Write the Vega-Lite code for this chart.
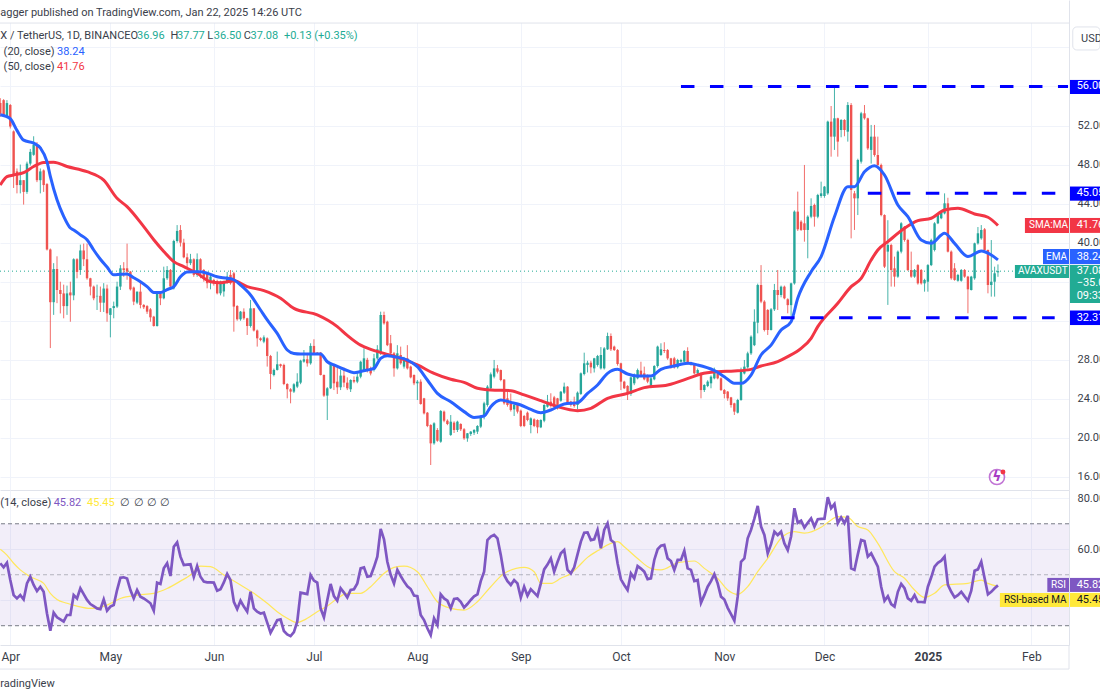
{
"$schema":"https://vega.github.io/schema/vega-lite/v6.json",
"description":"AVAX / TetherUS daily candles with EMA 20, SMA 50 and RSI 14",
"background":"white",
"padding":{"left":-6,"top":0,"right":0,"bottom":0},
"spacing":0,
"config":{"view":{"stroke":null},"font":"Roboto","concat":{"spacing":0}},
"datasets":{
"daily":[
{"date":"2024-03-29","open":54.3,"high":54.8,"low":52.9,"close":53.2,"rsi":54.5},
{"date":"2024-03-30","open":54.6,"high":54.7,"low":52.9,"close":53.0,"rsi":52.9},
{"date":"2024-03-31","open":52.9,"high":54.6,"low":52.8,"close":54.3,"rsi":54.7},
{"date":"2024-04-01","open":54.1,"high":54.2,"low":51.7,"close":51.9,"rsi":47.9},
{"date":"2024-04-02","open":51.4,"high":51.5,"low":45.6,"close":46.9,"rsi":42.0},
{"date":"2024-04-03","open":47.3,"high":47.6,"low":45.05,"close":45.9,"rsi":40.7},
{"date":"2024-04-04","open":45.9,"high":48.0,"low":45.05,"close":46.4,"rsi":42.0},
{"date":"2024-04-05","open":46.4,"high":46.4,"low":43.9,"close":45.2,"rsi":40.3},
{"date":"2024-04-06","open":45.2,"high":48.3,"low":45.0,"close":48.1,"rsi":46.6},
{"date":"2024-04-07","open":48.1,"high":49.6,"low":47.9,"close":49.3,"rsi":49.2},
{"date":"2024-04-08","open":49.0,"high":50.9,"low":48.9,"close":50.0,"rsi":46.0},
{"date":"2024-04-09","open":50.0,"high":50.3,"low":46.2,"close":46.4,"rsi":43.6},
{"date":"2024-04-10","open":46.4,"high":47.6,"low":45.05,"close":47.3,"rsi":45.3},
{"date":"2024-04-11","open":47.4,"high":47.5,"low":45.2,"close":45.9,"rsi":43.3},
{"date":"2024-04-12","open":46.0,"high":46.1,"low":39.2,"close":39.3,"rsi":34.8},
{"date":"2024-04-13","open":39.3,"high":39.4,"low":29.2,"close":33.9,"rsi":28.0},
{"date":"2024-04-14","open":33.9,"high":37.9,"low":32.6,"close":37.3,"rsi":35.1},
{"date":"2024-04-15","open":37.3,"high":38.6,"low":33.8,"close":35.15,"rsi":33.3},
{"date":"2024-04-16","open":35.15,"high":36.0,"low":32.75,"close":34.74,"rsi":32.5},
{"date":"2024-04-17","open":34.8,"high":35.7,"low":32.25,"close":33.5,"rsi":31.6},
{"date":"2024-04-18","open":33.5,"high":35.6,"low":32.6,"close":34.8,"rsi":34.2},
{"date":"2024-04-19","open":34.9,"high":36.0,"low":31.9,"close":34.6,"rsi":34.2},
{"date":"2024-04-20","open":34.6,"high":38.4,"low":34.1,"close":38.3,"rsi":42.0},
{"date":"2024-04-21","open":38.3,"high":38.4,"low":36.35,"close":37.0,"rsi":40.7},
{"date":"2024-04-22","open":37.2,"high":39.8,"low":36.7,"close":39.2,"rsi":44.7},
{"date":"2024-04-23","open":39.2,"high":39.9,"low":37.6,"close":38.3,"rsi":42.4},
{"date":"2024-04-24","open":38.3,"high":39.9,"low":36.2,"close":36.35,"rsi":40.1},
{"date":"2024-04-25","open":36.35,"high":36.4,"low":34.6,"close":35.5,"rsi":38.5},
{"date":"2024-04-26","open":35.5,"high":35.6,"low":34.1,"close":34.3,"rsi":37.7},
{"date":"2024-04-27","open":34.5,"high":35.7,"low":33.1,"close":34.55,"rsi":36.8},
{"date":"2024-04-28","open":34.55,"high":35.5,"low":32.9,"close":33.85,"rsi":36.5},
{"date":"2024-04-29","open":33.85,"high":35.85,"low":32.9,"close":35.3,"rsi":40.3},
{"date":"2024-04-30","open":35.3,"high":35.7,"low":31.9,"close":32.76,"rsi":35.9},
{"date":"2024-05-01","open":32.6,"high":33.3,"low":30.3,"close":33.27,"rsi":37.5},
{"date":"2024-05-02","open":33.3,"high":33.96,"low":32.25,"close":33.5,"rsi":38.1},
{"date":"2024-05-03","open":33.45,"high":36.0,"low":33.3,"close":35.5,"rsi":44.0},
{"date":"2024-05-04","open":35.5,"high":37.7,"low":35.15,"close":37.37,"rsi":48.8},
{"date":"2024-05-05","open":37.37,"high":38.0,"low":36.5,"close":37.2,"rsi":49.0},
{"date":"2024-05-06","open":37.37,"high":39.9,"low":36.2,"close":37.03,"rsi":48.5},
{"date":"2024-05-07","open":37.03,"high":37.1,"low":35.1,"close":35.22,"rsi":44.0},
{"date":"2024-05-08","open":35.4,"high":35.5,"low":33.6,"close":33.96,"rsi":40.7},
{"date":"2024-05-09","open":33.86,"high":35.0,"low":33.7,"close":34.98,"rsi":44.0},
{"date":"2024-05-10","open":34.98,"high":36.0,"low":33.27,"close":33.62,"rsi":41.4},
{"date":"2024-05-11","open":33.62,"high":33.7,"low":33.2,"close":33.38,"rsi":40.7},
{"date":"2024-05-12","open":33.5,"high":33.6,"low":32.7,"close":32.93,"rsi":39.8},
{"date":"2024-05-13","open":33.17,"high":33.3,"low":31.9,"close":32.35,"rsi":38.8},
{"date":"2024-05-14","open":32.42,"high":32.5,"low":31.4,"close":31.46,"rsi":35.9},
{"date":"2024-05-15","open":31.46,"high":34.9,"low":31.4,"close":34.81,"rsi":46.9},
{"date":"2024-05-16","open":34.81,"high":34.9,"low":33.6,"close":34.3,"rsi":46.4},
{"date":"2024-05-17","open":34.3,"high":37.54,"low":34.2,"close":36.35,"rsi":52.5},
{"date":"2024-05-18","open":36.35,"high":37.6,"low":36.18,"close":37.2,"rsi":54.5},
{"date":"2024-05-19","open":37.2,"high":37.3,"low":35.2,"close":35.5,"rsi":49.5},
{"date":"2024-05-20","open":35.32,"high":40.3,"low":35.2,"close":40.17,"rsi":61.0},
{"date":"2024-05-21","open":40.17,"high":41.8,"low":40.0,"close":41.2,"rsi":62.7},
{"date":"2024-05-22","open":41.3,"high":41.8,"low":39.6,"close":40.0,"rsi":57.1},
{"date":"2024-05-23","open":40.0,"high":40.4,"low":38.4,"close":38.5,"rsi":53.8},
{"date":"2024-05-24","open":38.5,"high":38.9,"low":37.4,"close":37.9,"rsi":54.0},
{"date":"2024-05-25","open":37.9,"high":38.85,"low":37.7,"close":38.3,"rsi":54.1},
{"date":"2024-05-26","open":38.3,"high":38.4,"low":36.5,"close":36.7,"rsi":49.2},
{"date":"2024-05-27","open":36.7,"high":38.9,"low":36.5,"close":38.3,"rsi":53.4},
{"date":"2024-05-28","open":38.3,"high":38.4,"low":36.35,"close":37.2,"rsi":49.2},
{"date":"2024-05-29","open":37.2,"high":37.3,"low":36.0,"close":36.5,"rsi":47.3},
{"date":"2024-05-30","open":36.86,"high":37.0,"low":35.32,"close":35.84,"rsi":47.0},
{"date":"2024-05-31","open":36.0,"high":36.8,"low":35.22,"close":36.52,"rsi":47.0},
{"date":"2024-06-01","open":36.18,"high":36.3,"low":35.6,"close":35.84,"rsi":46.9},
{"date":"2024-06-02","open":36.0,"high":36.2,"low":34.7,"close":34.81,"rsi":43.7},
{"date":"2024-06-03","open":34.81,"high":36.1,"low":34.6,"close":36.0,"rsi":44.3},
{"date":"2024-06-04","open":35.0,"high":36.1,"low":34.47,"close":36.0,"rsi":47.0},
{"date":"2024-06-05","open":36.0,"high":37.0,"low":35.8,"close":36.52,"rsi":50.3},
{"date":"2024-06-06","open":36.7,"high":37.2,"low":35.7,"close":35.84,"rsi":47.9},
{"date":"2024-06-07","open":36.86,"high":37.0,"low":30.88,"close":33.45,"rsi":39.4},
{"date":"2024-06-08","open":33.51,"high":33.6,"low":32.0,"close":32.15,"rsi":36.5},
{"date":"2024-06-09","open":32.15,"high":33.0,"low":32.0,"close":32.93,"rsi":39.8},
{"date":"2024-06-10","open":32.93,"high":33.27,"low":32.1,"close":32.25,"rsi":37.5},
{"date":"2024-06-11","open":32.25,"high":32.3,"low":30.54,"close":31.46,"rsi":35.5},
{"date":"2024-06-12","open":31.46,"high":34.13,"low":31.3,"close":33.27,"rsi":43.3},
{"date":"2024-06-13","open":33.27,"high":33.3,"low":30.9,"close":31.0,"rsi":36.8},
{"date":"2024-06-14","open":31.0,"high":31.1,"low":29.35,"close":30.2,"rsi":35.5},
{"date":"2024-06-15","open":30.2,"high":30.3,"low":29.9,"close":30.03,"rsi":34.8},
{"date":"2024-06-16","open":29.86,"high":30.5,"low":29.7,"close":30.3,"rsi":35.1},
{"date":"2024-06-17","open":30.2,"high":30.3,"low":27.3,"close":28.39,"rsi":31.2},
{"date":"2024-06-18","open":28.39,"high":28.5,"low":24.98,"close":26.55,"rsi":27.2},
{"date":"2024-06-19","open":26.44,"high":27.1,"low":26.3,"close":26.96,"rsi":29.6},
{"date":"2024-06-20","open":26.96,"high":28.84,"low":26.9,"close":27.54,"rsi":32.2},
{"date":"2024-06-21","open":27.54,"high":27.6,"low":27.2,"close":27.37,"rsi":32.5},
{"date":"2024-06-22","open":27.47,"high":27.6,"low":25.4,"close":25.52,"rsi":27.9},
{"date":"2024-06-23","open":25.52,"high":25.6,"low":24.05,"close":24.98,"rsi":26.6},
{"date":"2024-06-24","open":24.98,"high":25.1,"low":23.54,"close":24.74,"rsi":25.9},
{"date":"2024-06-25","open":24.74,"high":25.6,"low":24.6,"close":25.49,"rsi":27.5},
{"date":"2024-06-26","open":25.25,"high":26.62,"low":25.1,"close":25.76,"rsi":31.6},
{"date":"2024-06-27","open":25.66,"high":28.0,"low":25.5,"close":27.91,"rsi":43.0},
{"date":"2024-06-28","open":27.81,"high":29.0,"low":27.7,"close":28.05,"rsi":42.7},
{"date":"2024-06-29","open":28.05,"high":28.7,"low":27.3,"close":27.64,"rsi":42.4},
{"date":"2024-06-30","open":27.64,"high":29.69,"low":27.5,"close":29.42,"rsi":49.9},
{"date":"2024-07-01","open":29.42,"high":30.1,"low":28.5,"close":28.6,"rsi":47.7},
{"date":"2024-07-02","open":28.73,"high":28.8,"low":28.5,"close":28.6,"rsi":46.9},
{"date":"2024-07-03","open":28.73,"high":28.8,"low":26.4,"close":26.44,"rsi":36.8},
{"date":"2024-07-04","open":26.44,"high":26.5,"low":24.2,"close":24.33,"rsi":33.3},
{"date":"2024-07-05","open":24.33,"high":25.2,"low":21.83,"close":25.08,"rsi":40.0},
{"date":"2024-07-06","open":25.08,"high":27.6,"low":25.0,"close":27.47,"rsi":46.4},
{"date":"2024-07-07","open":27.47,"high":27.5,"low":24.9,"close":25.59,"rsi":41.6},
{"date":"2024-07-08","open":25.76,"high":27.3,"low":24.5,"close":25.18,"rsi":39.8},
{"date":"2024-07-09","open":25.18,"high":27.0,"low":24.9,"close":26.38,"rsi":44.7},
{"date":"2024-07-10","open":26.38,"high":27.2,"low":25.2,"close":25.66,"rsi":43.0},
{"date":"2024-07-11","open":25.66,"high":26.2,"low":24.9,"close":25.08,"rsi":41.1},
{"date":"2024-07-12","open":24.98,"high":26.0,"low":24.7,"close":25.93,"rsi":44.0},
{"date":"2024-07-13","open":25.93,"high":26.3,"low":25.6,"close":25.76,"rsi":44.3},
{"date":"2024-07-14","open":25.76,"high":26.7,"low":25.6,"close":26.27,"rsi":46.6},
{"date":"2024-07-15","open":26.27,"high":27.9,"low":26.1,"close":27.8,"rsi":52.5},
{"date":"2024-07-16","open":26.95,"high":29.17,"low":26.9,"close":28.15,"rsi":52.9},
{"date":"2024-07-17","open":28.0,"high":28.2,"low":26.7,"close":26.95,"rsi":49.2},
{"date":"2024-07-18","open":27.12,"high":27.3,"low":26.4,"close":26.6,"rsi":49.5},
{"date":"2024-07-19","open":26.95,"high":28.6,"low":26.8,"close":28.15,"rsi":53.0},
{"date":"2024-07-20","open":28.15,"high":29.5,"low":28.0,"close":29.07,"rsi":57.1},
{"date":"2024-07-21","open":28.66,"high":32.93,"low":28.5,"close":32.59,"rsi":68.0},
{"date":"2024-07-22","open":32.59,"high":32.93,"low":31.6,"close":31.73,"rsi":63.9},
{"date":"2024-07-23","open":31.9,"high":32.0,"low":29.4,"close":29.5,"rsi":55.1},
{"date":"2024-07-24","open":29.69,"high":30.54,"low":28.5,"close":28.66,"rsi":50.0},
{"date":"2024-07-25","open":28.66,"high":28.8,"low":26.27,"close":27.12,"rsi":46.6},
{"date":"2024-07-26","open":27.12,"high":29.5,"low":27.0,"close":28.66,"rsi":51.9},
{"date":"2024-07-27","open":28.49,"high":29.35,"low":27.5,"close":27.64,"rsi":49.5},
{"date":"2024-07-28","open":27.3,"high":28.3,"low":27.1,"close":28.15,"rsi":47.3},
{"date":"2024-07-29","open":28.15,"high":29.5,"low":27.0,"close":27.12,"rsi":45.5},
{"date":"2024-07-30","open":27.3,"high":27.4,"low":26.1,"close":26.2,"rsi":44.4},
{"date":"2024-07-31","open":26.44,"high":26.5,"low":25.4,"close":25.59,"rsi":41.8},
{"date":"2024-08-01","open":25.59,"high":25.93,"low":23.88,"close":25.76,"rsi":41.6},
{"date":"2024-08-02","open":25.76,"high":26.0,"low":23.4,"close":23.47,"rsi":34.2},
{"date":"2024-08-03","open":24.05,"high":24.1,"low":22.4,"close":22.51,"rsi":32.2},
{"date":"2024-08-04","open":22.58,"high":22.65,"low":21.1,"close":21.22,"rsi":29.0},
{"date":"2024-08-05","open":21.32,"high":21.4,"low":17.22,"close":19.44,"rsi":26.3},
{"date":"2024-08-06","open":19.44,"high":21.6,"low":19.3,"close":21.49,"rsi":32.9},
{"date":"2024-08-07","open":20.81,"high":21.0,"low":19.6,"close":19.71,"rsi":30.3},
{"date":"2024-08-08","open":19.61,"high":22.85,"low":19.5,"close":22.75,"rsi":42.3},
{"date":"2024-08-09","open":22.69,"high":22.8,"low":21.6,"close":21.76,"rsi":40.7},
{"date":"2024-08-10","open":21.76,"high":21.9,"low":21.3,"close":21.42,"rsi":39.8},
{"date":"2024-08-11","open":20.3,"high":22.34,"low":20.2,"close":21.66,"rsi":36.8},
{"date":"2024-08-12","open":21.56,"high":21.7,"low":20.5,"close":20.81,"rsi":40.5},
{"date":"2024-08-13","open":20.81,"high":21.76,"low":20.6,"close":21.66,"rsi":40.7},
{"date":"2024-08-14","open":21.42,"high":21.5,"low":20.7,"close":20.88,"rsi":39.4},
{"date":"2024-08-15","open":20.88,"high":21.0,"low":19.8,"close":19.95,"rsi":37.1},
{"date":"2024-08-16","open":19.95,"high":20.5,"low":19.6,"close":20.47,"rsi":38.5},
{"date":"2024-08-17","open":20.4,"high":20.7,"low":20.2,"close":20.64,"rsi":40.1},
{"date":"2024-08-18","open":20.53,"high":20.9,"low":20.3,"close":20.81,"rsi":41.5},
{"date":"2024-08-19","open":20.64,"high":21.3,"low":20.4,"close":21.22,"rsi":42.3},
{"date":"2024-08-20","open":21.15,"high":22.3,"low":21.0,"close":22.17,"rsi":47.5},
{"date":"2024-08-21","open":22.17,"high":23.7,"low":21.9,"close":23.54,"rsi":51.2},
{"date":"2024-08-22","open":23.37,"high":25.4,"low":23.2,"close":25.25,"rsi":63.6},
{"date":"2024-08-23","open":25.08,"high":26.7,"low":24.9,"close":26.51,"rsi":65.0},
{"date":"2024-08-24","open":26.27,"high":27.98,"low":26.1,"close":27.12,"rsi":65.6},
{"date":"2024-08-25","open":27.12,"high":27.47,"low":26.6,"close":26.78,"rsi":64.3},
{"date":"2024-08-26","open":26.95,"high":27.0,"low":25.8,"close":25.93,"rsi":57.7},
{"date":"2024-08-27","open":25.98,"high":26.0,"low":23.4,"close":23.54,"rsi":49.9},
{"date":"2024-08-28","open":24.05,"high":24.73,"low":23.2,"close":23.37,"rsi":47.5},
{"date":"2024-08-29","open":23.54,"high":24.55,"low":22.7,"close":22.86,"rsi":46.0},
{"date":"2024-08-30","open":22.92,"high":23.5,"low":22.24,"close":23.37,"rsi":47.9},
{"date":"2024-08-31","open":23.37,"high":23.5,"low":22.5,"close":22.69,"rsi":46.6},
{"date":"2024-09-01","open":22.79,"high":22.9,"low":21.1,"close":21.22,"rsi":41.0},
{"date":"2024-09-02","open":22.24,"high":22.35,"low":21.1,"close":21.22,"rsi":45.3},
{"date":"2024-09-03","open":22.58,"high":22.7,"low":21.7,"close":21.83,"rsi":41.8},
{"date":"2024-09-04","open":21.32,"high":22.1,"low":20.47,"close":22.0,"rsi":44.3},
{"date":"2024-09-05","open":21.9,"high":22.0,"low":21.1,"close":21.22,"rsi":43.0},
{"date":"2024-09-06","open":21.83,"high":21.9,"low":20.47,"close":21.08,"rsi":41.6},
{"date":"2024-09-07","open":21.08,"high":21.9,"low":21.0,"close":21.83,"rsi":46.6},
{"date":"2024-09-08","open":21.76,"high":23.45,"low":21.6,"close":23.37,"rsi":52.1},
{"date":"2024-09-09","open":23.2,"high":24.4,"low":23.1,"close":23.71,"rsi":54.0},
{"date":"2024-09-10","open":23.71,"high":24.57,"low":23.1,"close":23.27,"rsi":56.4},
{"date":"2024-09-11","open":24.15,"high":24.3,"low":23.1,"close":23.2,"rsi":51.2},
{"date":"2024-09-12","open":24.05,"high":24.1,"low":22.9,"close":23.03,"rsi":55.0},
{"date":"2024-09-13","open":23.81,"high":24.8,"low":23.7,"close":24.73,"rsi":58.4},
{"date":"2024-09-14","open":24.63,"high":25.66,"low":24.5,"close":25.25,"rsi":59.7},
{"date":"2024-09-15","open":25.25,"high":25.3,"low":23.4,"close":23.61,"rsi":51.9},
{"date":"2024-09-16","open":23.71,"high":23.8,"low":23.2,"close":23.37,"rsi":50.5},
{"date":"2024-09-17","open":23.71,"high":24.22,"low":23.1,"close":23.27,"rsi":52.9},
{"date":"2024-09-18","open":23.37,"high":24.75,"low":22.92,"close":24.63,"rsi":58.0},
{"date":"2024-09-19","open":24.5,"high":26.7,"low":24.4,"close":26.61,"rsi":63.0},
{"date":"2024-09-20","open":26.54,"high":28.73,"low":26.4,"close":27.64,"rsi":66.5},
{"date":"2024-09-21","open":27.47,"high":27.9,"low":26.7,"close":27.7,"rsi":66.6},
{"date":"2024-09-22","open":27.7,"high":27.9,"low":26.61,"close":27.23,"rsi":63.6},
{"date":"2024-09-23","open":27.12,"high":28.2,"low":26.7,"close":28.15,"rsi":63.9},
{"date":"2024-09-24","open":27.47,"high":28.5,"low":27.3,"close":28.39,"rsi":67.6},
{"date":"2024-09-25","open":27.12,"high":29.3,"low":27.0,"close":28.49,"rsi":60.4},
{"date":"2024-09-26","open":27.12,"high":29.3,"low":27.0,"close":29.17,"rsi":67.6},
{"date":"2024-09-27","open":29.07,"high":30.78,"low":29.0,"close":30.44,"rsi":70.2},
{"date":"2024-09-28","open":30.44,"high":30.7,"low":28.9,"close":29.07,"rsi":63.6},
{"date":"2024-09-29","open":29.35,"high":29.45,"low":28.9,"close":29.0,"rsi":62.6},
{"date":"2024-09-30","open":29.0,"high":29.1,"low":27.4,"close":27.57,"rsi":54.5},
{"date":"2024-10-01","open":27.64,"high":27.7,"low":24.9,"close":25.76,"rsi":48.2},
{"date":"2024-10-02","open":25.76,"high":25.85,"low":25.0,"close":25.08,"rsi":46.0},
{"date":"2024-10-03","open":25.32,"high":25.4,"low":23.88,"close":24.5,"rsi":44.0},
{"date":"2024-10-04","open":24.5,"high":26.3,"low":24.3,"close":26.2,"rsi":50.5},
{"date":"2024-10-05","open":25.59,"high":26.6,"low":25.4,"close":26.44,"rsi":48.6},
{"date":"2024-10-06","open":26.1,"high":27.1,"low":26.0,"close":26.95,"rsi":53.4},
{"date":"2024-10-07","open":26.89,"high":27.8,"low":26.3,"close":26.44,"rsi":52.4},
{"date":"2024-10-08","open":26.61,"high":27.3,"low":25.9,"close":26.0,"rsi":51.2},
{"date":"2024-10-09","open":26.44,"high":26.5,"low":25.6,"close":25.76,"rsi":48.3},
{"date":"2024-10-10","open":25.25,"high":26.2,"low":25.1,"close":26.1,"rsi":48.6},
{"date":"2024-10-11","open":26.0,"high":27.45,"low":25.9,"close":27.36,"rsi":55.8},
{"date":"2024-10-12","open":27.36,"high":29.45,"low":27.2,"close":29.35,"rsi":60.0},
{"date":"2024-10-13","open":28.49,"high":29.69,"low":28.4,"close":29.07,"rsi":61.4},
{"date":"2024-10-14","open":29.0,"high":29.8,"low":28.7,"close":28.9,"rsi":61.7},
{"date":"2024-10-15","open":29.0,"high":29.1,"low":28.0,"close":28.15,"rsi":56.4},
{"date":"2024-10-16","open":28.15,"high":28.2,"low":27.1,"close":27.23,"rsi":55.4},
{"date":"2024-10-17","open":28.15,"high":28.3,"low":27.1,"close":27.23,"rsi":51.9},
{"date":"2024-10-18","open":27.23,"high":28.1,"low":27.1,"close":27.98,"rsi":55.8},
{"date":"2024-10-19","open":27.8,"high":28.1,"low":27.7,"close":27.98,"rsi":55.8},
{"date":"2024-10-20","open":27.8,"high":29.0,"low":27.7,"close":28.9,"rsi":59.4},
{"date":"2024-10-21","open":28.9,"high":29.28,"low":27.5,"close":27.64,"rsi":52.5},
{"date":"2024-10-22","open":27.7,"high":27.8,"low":27.4,"close":27.57,"rsi":51.9},
{"date":"2024-10-23","open":27.57,"high":27.65,"low":26.5,"close":26.61,"rsi":47.5},
{"date":"2024-10-24","open":26.61,"high":27.1,"low":26.5,"close":26.95,"rsi":47.9},
{"date":"2024-10-25","open":26.61,"high":26.7,"low":24.05,"close":24.9,"rsi":39.0},
{"date":"2024-10-26","open":24.9,"high":25.5,"low":24.7,"close":25.42,"rsi":42.0},
{"date":"2024-10-27","open":25.32,"high":25.9,"low":25.2,"close":25.76,"rsi":45.3},
{"date":"2024-10-28","open":25.59,"high":26.4,"low":25.08,"close":26.27,"rsi":47.5},
{"date":"2024-10-29","open":26.1,"high":27.2,"low":26.0,"close":26.96,"rsi":50.2},
{"date":"2024-10-30","open":26.6,"high":26.9,"low":26.0,"close":26.1,"rsi":46.6},
{"date":"2024-10-31","open":26.1,"high":26.2,"low":24.8,"close":24.9,"rsi":41.4},
{"date":"2024-11-01","open":24.9,"high":25.0,"low":24.05,"close":24.5,"rsi":40.3},
{"date":"2024-11-02","open":24.74,"high":24.8,"low":23.8,"close":24.05,"rsi":37.0},
{"date":"2024-11-03","open":24.15,"high":24.2,"low":23.1,"close":23.37,"rsi":34.5},
{"date":"2024-11-04","open":23.54,"high":23.6,"low":22.35,"close":22.69,"rsi":32.0},
{"date":"2024-11-05","open":22.58,"high":24.0,"low":22.5,"close":23.88,"rsi":41.4},
{"date":"2024-11-06","open":23.88,"high":27.2,"low":23.8,"close":26.95,"rsi":55.1},
{"date":"2024-11-07","open":26.6,"high":27.98,"low":26.5,"close":27.3,"rsi":56.4},
{"date":"2024-11-08","open":27.23,"high":28.83,"low":27.1,"close":28.66,"rsi":64.3},
{"date":"2024-11-09","open":28.66,"high":30.5,"low":28.5,"close":30.37,"rsi":67.6},
{"date":"2024-11-10","open":29.5,"high":33.17,"low":29.4,"close":31.9,"rsi":72.0},
{"date":"2024-11-11","open":31.8,"high":35.8,"low":30.71,"close":35.66,"rsi":77.0},
{"date":"2024-11-12","open":35.66,"high":37.7,"low":33.8,"close":33.96,"rsi":68.9},
{"date":"2024-11-13","open":33.96,"high":34.1,"low":30.9,"close":31.05,"rsi":65.6},
{"date":"2024-11-14","open":33.1,"high":33.2,"low":30.54,"close":31.05,"rsi":58.4},
{"date":"2024-11-15","open":31.05,"high":33.3,"low":31.0,"close":33.17,"rsi":62.0},
{"date":"2024-11-16","open":33.17,"high":35.77,"low":33.0,"close":35.15,"rsi":66.9},
{"date":"2024-11-17","open":35.15,"high":37.2,"low":33.1,"close":34.64,"rsi":65.6},
{"date":"2024-11-18","open":34.64,"high":35.6,"low":34.4,"close":35.49,"rsi":66.9},
{"date":"2024-11-19","open":35.49,"high":35.6,"low":34.2,"close":34.3,"rsi":62.3},
{"date":"2024-11-20","open":34.2,"high":34.3,"low":32.76,"close":33.6,"rsi":59.7},
{"date":"2024-11-21","open":33.6,"high":35.9,"low":32.5,"close":35.83,"rsi":65.0},
{"date":"2024-11-22","open":35.83,"high":43.3,"low":35.7,"close":43.18,"rsi":76.1},
{"date":"2024-11-23","open":43.18,"high":45.23,"low":41.2,"close":41.37,"rsi":70.4},
{"date":"2024-11-24","open":42.15,"high":42.3,"low":41.2,"close":41.3,"rsi":71.2},
{"date":"2024-11-25","open":41.98,"high":47.96,"low":40.1,"close":41.3,"rsi":68.5},
{"date":"2024-11-26","open":41.3,"high":42.8,"low":38.4,"close":42.66,"rsi":70.4},
{"date":"2024-11-27","open":42.66,"high":44.54,"low":42.5,"close":43.76,"rsi":72.1},
{"date":"2024-11-28","open":43.86,"high":44.0,"low":41.64,"close":42.66,"rsi":68.9},
{"date":"2024-11-29","open":42.66,"high":45.0,"low":42.5,"close":44.88,"rsi":71.8},
{"date":"2024-11-30","open":44.78,"high":46.25,"low":44.6,"close":45.05,"rsi":71.9},
{"date":"2024-12-01","open":44.78,"high":45.8,"low":44.6,"close":45.74,"rsi":72.0},
{"date":"2024-12-02","open":45.05,"high":52.5,"low":44.9,"close":52.4,"rsi":80.4},
{"date":"2024-12-03","open":52.4,"high":54.0,"low":48.81,"close":50.86,"rsi":76.1},
{"date":"2024-12-04","open":50.86,"high":55.98,"low":49.5,"close":52.74,"rsi":77.8},
{"date":"2024-12-05","open":52.74,"high":52.8,"low":48.81,"close":50.35,"rsi":70.2},
{"date":"2024-12-06","open":51.54,"high":52.65,"low":50.8,"close":52.57,"rsi":72.5},
{"date":"2024-12-07","open":52.57,"high":52.65,"low":50.9,"close":51.54,"rsi":70.2},
{"date":"2024-12-08","open":51.37,"high":54.4,"low":50.35,"close":54.1,"rsi":73.1},
{"date":"2024-12-09","open":54.1,"high":54.3,"low":40.44,"close":45.4,"rsi":52.5},
{"date":"2024-12-10","open":45.05,"high":45.3,"low":41.3,"close":44.54,"rsi":51.9},
{"date":"2024-12-11","open":44.54,"high":48.6,"low":42.83,"close":48.47,"rsi":58.0},
{"date":"2024-12-12","open":48.3,"high":53.4,"low":48.1,"close":53.25,"rsi":63.6},
{"date":"2024-12-13","open":53.25,"high":54.1,"low":52.6,"close":52.74,"rsi":63.2},
{"date":"2024-12-14","open":52.74,"high":52.8,"low":49.5,"close":49.66,"rsi":57.1},
{"date":"2024-12-15","open":49.5,"high":52.06,"low":48.1,"close":50.86,"rsi":58.4},
{"date":"2024-12-16","open":50.86,"high":52.06,"low":48.81,"close":48.98,"rsi":55.8},
{"date":"2024-12-17","open":48.98,"high":50.86,"low":47.8,"close":47.96,"rsi":53.2},
{"date":"2024-12-18","open":47.96,"high":48.1,"low":42.7,"close":42.83,"rsi":45.3},
{"date":"2024-12-19","open":42.83,"high":42.9,"low":37.4,"close":37.54,"rsi":39.8},
{"date":"2024-12-20","open":39.08,"high":42.3,"low":33.62,"close":39.76,"rsi":41.6},
{"date":"2024-12-21","open":39.76,"high":39.9,"low":35.5,"close":37.2,"rsi":38.5},
{"date":"2024-12-22","open":37.37,"high":38.57,"low":35.49,"close":36.52,"rsi":37.5},
{"date":"2024-12-23","open":36.52,"high":39.2,"low":36.4,"close":39.08,"rsi":43.3},
{"date":"2024-12-24","open":39.08,"high":42.1,"low":38.9,"close":41.98,"rsi":46.4},
{"date":"2024-12-25","open":41.64,"high":41.7,"low":40.1,"close":40.27,"rsi":44.7},
{"date":"2024-12-26","open":40.27,"high":40.4,"low":37.1,"close":37.2,"rsi":40.7},
{"date":"2024-12-27","open":37.2,"high":39.08,"low":36.4,"close":36.52,"rsi":39.8},
{"date":"2024-12-28","open":36.52,"high":37.3,"low":36.4,"close":37.2,"rsi":42.0},
{"date":"2024-12-29","open":37.7,"high":37.8,"low":35.7,"close":35.83,"rsi":39.3},
{"date":"2024-12-30","open":37.2,"high":37.3,"low":35.7,"close":35.83,"rsi":39.3},
{"date":"2024-12-31","open":35.83,"high":36.3,"low":34.98,"close":36.18,"rsi":39.2},
{"date":"2025-01-01","open":36.0,"high":37.8,"low":34.98,"close":37.7,"rsi":45.3},
{"date":"2025-01-02","open":37.7,"high":40.4,"low":37.6,"close":40.27,"rsi":49.0},
{"date":"2025-01-03","open":39.25,"high":42.1,"low":39.1,"close":41.98,"rsi":53.2},
{"date":"2025-01-04","open":41.98,"high":42.9,"low":41.9,"close":42.83,"rsi":54.7},
{"date":"2025-01-05","open":42.5,"high":43.3,"low":42.4,"close":43.18,"rsi":55.5},
{"date":"2025-01-06","open":43.0,"high":45.05,"low":42.9,"close":44.03,"rsi":57.1},
{"date":"2025-01-07","open":44.03,"high":44.6,"low":39.0,"close":39.08,"rsi":46.0},
{"date":"2025-01-08","open":39.08,"high":39.2,"low":36.2,"close":36.35,"rsi":43.3},
{"date":"2025-01-09","open":37.37,"high":37.9,"low":36.1,"close":36.18,"rsi":41.1},
{"date":"2025-01-10","open":36.1,"high":36.8,"low":36.0,"close":36.69,"rsi":42.0},
{"date":"2025-01-11","open":36.1,"high":37.3,"low":36.0,"close":37.2,"rsi":43.3},
{"date":"2025-01-12","open":37.2,"high":37.3,"low":36.4,"close":36.52,"rsi":41.5},
{"date":"2025-01-13","open":36.52,"high":36.6,"low":32.76,"close":35.22,"rsi":39.8},
{"date":"2025-01-14","open":35.15,"high":36.6,"low":35.1,"close":36.52,"rsi":43.7},
{"date":"2025-01-15","open":36.35,"high":40.0,"low":36.2,"close":39.93,"rsi":51.6},
{"date":"2025-01-16","open":39.93,"high":41.6,"low":39.8,"close":40.96,"rsi":52.1},
{"date":"2025-01-17","open":40.44,"high":41.8,"low":40.3,"close":41.3,"rsi":55.1},
{"date":"2025-01-18","open":41.37,"high":41.5,"low":39.1,"close":39.25,"rsi":48.6},
{"date":"2025-01-19","open":39.25,"high":39.3,"low":34.81,"close":35.66,"rsi":42.3},
{"date":"2025-01-20","open":35.66,"high":40.27,"low":34.47,"close":36.0,"rsi":43.3},
{"date":"2025-01-21","open":36.0,"high":37.54,"low":34.47,"close":36.86,"rsi":44.7},
{"date":"2025-01-22","open":36.96,"high":37.77,"low":36.5,"close":37.08,"rsi":45.82}
],
"ema":[
{"date":"2024-03-29","v":53.1},{"date":"2024-04-01","v":52.7},{"date":"2024-04-03","v":51.5},{"date":"2024-04-05","v":50.5},{"date":"2024-04-08","v":50.2},{"date":"2024-04-10","v":49.7},{"date":"2024-04-12","v":48.3},{"date":"2024-04-13","v":46.8},{"date":"2024-04-15","v":44.4},{"date":"2024-04-17","v":42.7},{"date":"2024-04-19","v":41.5},{"date":"2024-04-20","v":41.3},{"date":"2024-04-22","v":40.8},{"date":"2024-04-24","v":40.3},{"date":"2024-04-26","v":39.25},{"date":"2024-04-28","v":38.3},{"date":"2024-04-30","v":37.5},{"date":"2024-05-02","v":36.7},{"date":"2024-05-04","v":36.76},{"date":"2024-05-06","v":36.8},{"date":"2024-05-08","v":36.4},{"date":"2024-05-10","v":36.0},{"date":"2024-05-12","v":35.5},{"date":"2024-05-14","v":34.9},{"date":"2024-05-16","v":34.9},{"date":"2024-05-18","v":35.2},{"date":"2024-05-20","v":35.5},{"date":"2024-05-22","v":36.5},{"date":"2024-05-24","v":37.0},{"date":"2024-05-26","v":37.03},{"date":"2024-05-28","v":37.03},{"date":"2024-05-30","v":36.86},{"date":"2024-06-02","v":36.5},{"date":"2024-06-05","v":36.35},{"date":"2024-06-07","v":36.2},{"date":"2024-06-09","v":35.66},{"date":"2024-06-12","v":34.64},{"date":"2024-06-15","v":33.1},{"date":"2024-06-17","v":32.08},{"date":"2024-06-20","v":30.7},{"date":"2024-06-23","v":29.0},{"date":"2024-06-25","v":28.65},{"date":"2024-06-27","v":28.6},{"date":"2024-06-30","v":28.6},{"date":"2024-07-03","v":28.6},{"date":"2024-07-05","v":27.8},{"date":"2024-07-07","v":27.47},{"date":"2024-07-10","v":27.03},{"date":"2024-07-13","v":26.68},{"date":"2024-07-15","v":26.8},{"date":"2024-07-17","v":26.95},{"date":"2024-07-19","v":27.12},{"date":"2024-07-21","v":28.15},{"date":"2024-07-23","v":28.42},{"date":"2024-07-25","v":28.32},{"date":"2024-07-29","v":27.98},{"date":"2024-08-01","v":27.3},{"date":"2024-08-04","v":25.93},{"date":"2024-08-07","v":24.56},{"date":"2024-08-11","v":23.7},{"date":"2024-08-15","v":22.69},{"date":"2024-08-18","v":22.1},{"date":"2024-08-21","v":22.24},{"date":"2024-08-23","v":23.2},{"date":"2024-08-26","v":23.88},{"date":"2024-08-29","v":23.64},{"date":"2024-09-01","v":23.37},{"date":"2024-09-04","v":22.92},{"date":"2024-09-07","v":22.58},{"date":"2024-09-10","v":22.86},{"date":"2024-09-14","v":23.47},{"date":"2024-09-18","v":23.61},{"date":"2024-09-21","v":24.56},{"date":"2024-09-24","v":25.42},{"date":"2024-09-27","v":26.61},{"date":"2024-09-30","v":27.02},{"date":"2024-10-03","v":26.54},{"date":"2024-10-06","v":26.34},{"date":"2024-10-10","v":26.34},{"date":"2024-10-13","v":27.02},{"date":"2024-10-17","v":27.36},{"date":"2024-10-21","v":27.64},{"date":"2024-10-24","v":27.47},{"date":"2024-10-29","v":26.9},{"date":"2024-11-01","v":26.27},{"date":"2024-11-04","v":25.59},{"date":"2024-11-06","v":25.59},{"date":"2024-11-09","v":26.44},{"date":"2024-11-12","v":28.49},{"date":"2024-11-15","v":29.5},{"date":"2024-11-18","v":31.05},{"date":"2024-11-21","v":31.9},{"date":"2024-11-23","v":34.3},{"date":"2024-11-27","v":37.03},{"date":"2024-11-30","v":38.57},{"date":"2024-12-04","v":42.66},{"date":"2024-12-08","v":45.74},{"date":"2024-12-10","v":45.74},{"date":"2024-12-13","v":47.27},{"date":"2024-12-16","v":47.89},{"date":"2024-12-19","v":46.93},{"date":"2024-12-23","v":43.86},{"date":"2024-12-26","v":42.66},{"date":"2024-12-30","v":40.27},{"date":"2025-01-02","v":39.93},{"date":"2025-01-06","v":40.96},{"date":"2025-01-09","v":39.93},{"date":"2025-01-13","v":38.57},{"date":"2025-01-17","v":39.15},{"date":"2025-01-20","v":38.74},{"date":"2025-01-22","v":38.24}
],
"sma":[
{"date":"2024-03-29","v":45.9},{"date":"2024-03-31","v":46.76},{"date":"2024-04-02","v":46.93},{"date":"2024-04-05","v":47.17},{"date":"2024-04-08","v":47.8},{"date":"2024-04-11","v":48.2},{"date":"2024-04-14","v":48.23},{"date":"2024-04-18","v":47.8},{"date":"2024-04-24","v":47.27},{"date":"2024-04-29","v":46.4},{"date":"2024-05-03","v":44.54},{"date":"2024-05-06","v":43.69},{"date":"2024-05-11","v":41.64},{"date":"2024-05-14","v":40.3},{"date":"2024-05-17","v":39.1},{"date":"2024-05-20","v":38.06},{"date":"2024-05-23","v":37.54},{"date":"2024-05-27","v":36.86},{"date":"2024-05-31","v":36.0},{"date":"2024-06-03","v":35.9},{"date":"2024-06-07","v":36.1},{"date":"2024-06-11","v":35.5},{"date":"2024-06-16","v":35.08},{"date":"2024-06-21","v":34.3},{"date":"2024-06-25","v":33.27},{"date":"2024-07-02","v":32.6},{"date":"2024-07-08","v":31.4},{"date":"2024-07-11","v":30.5},{"date":"2024-07-15","v":29.5},{"date":"2024-07-18","v":29.07},{"date":"2024-07-22","v":28.66},{"date":"2024-07-27","v":28.15},{"date":"2024-08-01","v":27.47},{"date":"2024-08-06","v":26.61},{"date":"2024-08-11","v":26.0},{"date":"2024-08-15","v":25.69},{"date":"2024-08-19","v":25.08},{"date":"2024-08-23","v":24.9},{"date":"2024-08-29","v":24.84},{"date":"2024-09-02","v":24.4},{"date":"2024-09-07","v":23.81},{"date":"2024-09-12","v":23.2},{"date":"2024-09-18","v":22.79},{"date":"2024-09-22","v":23.03},{"date":"2024-09-27","v":24.05},{"date":"2024-10-03","v":24.56},{"date":"2024-10-08","v":25.15},{"date":"2024-10-15","v":25.42},{"date":"2024-10-22","v":26.2},{"date":"2024-10-25","v":26.55},{"date":"2024-10-30","v":26.78},{"date":"2024-11-04","v":26.85},{"date":"2024-11-09","v":27.02},{"date":"2024-11-12","v":27.36},{"date":"2024-11-17","v":27.81},{"date":"2024-11-20","v":28.32},{"date":"2024-11-24","v":29.17},{"date":"2024-11-27","v":30.2},{"date":"2024-11-29","v":31.4},{"date":"2024-12-05","v":33.79},{"date":"2024-12-09","v":35.49},{"date":"2024-12-12","v":36.35},{"date":"2024-12-15","v":38.22},{"date":"2024-12-17","v":39.25},{"date":"2024-12-20","v":40.1},{"date":"2024-12-25","v":41.47},{"date":"2024-12-29","v":42.25},{"date":"2025-01-02","v":42.5},{"date":"2025-01-06","v":43.35},{"date":"2025-01-10","v":43.52},{"date":"2025-01-15","v":42.94},{"date":"2025-01-19","v":42.6},{"date":"2025-01-22","v":41.76}
],
"rsima":[
{"date":"2024-03-29","v":60.0},{"date":"2024-03-31","v":57.7},{"date":"2024-04-02","v":54.5},{"date":"2024-04-04","v":51.9},{"date":"2024-04-07","v":49.2},{"date":"2024-04-11","v":46.6},{"date":"2024-04-13","v":42.7},{"date":"2024-04-15","v":40.3},{"date":"2024-04-18","v":38.8},{"date":"2024-04-21","v":37.7},{"date":"2024-04-25","v":36.8},{"date":"2024-04-30","v":38.1},{"date":"2024-05-04","v":40.7},{"date":"2024-05-09","v":42.0},{"date":"2024-05-14","v":42.7},{"date":"2024-05-18","v":44.6},{"date":"2024-05-22","v":47.5},{"date":"2024-05-25","v":49.9},{"date":"2024-05-28","v":53.4},{"date":"2024-05-31","v":53.2},{"date":"2024-06-04","v":49.9},{"date":"2024-06-09","v":46.0},{"date":"2024-06-13","v":42.7},{"date":"2024-06-17","v":38.8},{"date":"2024-06-20","v":35.5},{"date":"2024-06-23","v":32.9},{"date":"2024-06-26","v":31.2},{"date":"2024-06-28","v":32.2},{"date":"2024-07-02","v":35.5},{"date":"2024-07-05","v":37.7},{"date":"2024-07-08","v":40.7},{"date":"2024-07-11","v":42.7},{"date":"2024-07-15","v":42.7},{"date":"2024-07-18","v":45.3},{"date":"2024-07-22","v":50.5},{"date":"2024-07-25","v":52.9},{"date":"2024-07-28","v":53.4},{"date":"2024-08-01","v":51.2},{"date":"2024-08-04","v":45.3},{"date":"2024-08-07","v":39.4},{"date":"2024-08-11","v":36.8},{"date":"2024-08-15","v":36.1},{"date":"2024-08-19","v":39.4},{"date":"2024-08-23","v":45.3},{"date":"2024-08-27","v":50.5},{"date":"2024-09-02","v":52.9},{"date":"2024-09-05","v":51.2},{"date":"2024-09-07","v":46.6},{"date":"2024-09-10","v":46.6},{"date":"2024-09-13","v":48.6},{"date":"2024-09-16","v":50.5},{"date":"2024-09-18","v":52.9},{"date":"2024-09-21","v":56.8},{"date":"2024-09-24","v":59.4},{"date":"2024-09-30","v":63.0},{"date":"2024-10-02","v":61.0},{"date":"2024-10-06","v":56.4},{"date":"2024-10-10","v":52.5},{"date":"2024-10-13","v":51.9},{"date":"2024-10-18","v":54.7},{"date":"2024-10-23","v":55.4},{"date":"2024-10-26","v":52.5},{"date":"2024-10-30","v":48.6},{"date":"2024-11-02","v":44.0},{"date":"2024-11-05","v":42.3},{"date":"2024-11-08","v":45.3},{"date":"2024-11-11","v":51.2},{"date":"2024-11-14","v":56.4},{"date":"2024-11-18","v":64.3},{"date":"2024-11-22","v":66.9},{"date":"2024-11-25","v":66.3},{"date":"2024-11-30","v":68.6},{"date":"2024-12-03","v":71.5},{"date":"2024-12-05","v":72.8},{"date":"2024-12-08","v":72.5},{"date":"2024-12-11","v":68.9},{"date":"2024-12-14","v":67.6},{"date":"2024-12-17","v":62.3},{"date":"2024-12-22","v":51.2},{"date":"2024-12-25","v":48.6},{"date":"2024-12-28","v":44.0},{"date":"2024-12-31","v":41.1},{"date":"2025-01-03","v":42.7},{"date":"2025-01-06","v":46.0},{"date":"2025-01-13","v":46.6},{"date":"2025-01-17","v":47.9},{"date":"2025-01-19","v":46.6},{"date":"2025-01-22","v":45.45}
],
"levels":[
{"from":"2024-10-19","to":"2025-02-12","price":56.0},
{"from":"2024-12-14","to":"2025-02-09","price":45.05},
{"from":"2024-11-18","to":"2025-02-08","price":32.31}
],
"priceBoxes":[
{"from":"2025-02-12T14:00:00Z","to":"2025-02-21T14:00:00Z","hi":56.67,"lo":55.23,"kind":"level"},
{"from":"2025-02-12T14:00:00Z","to":"2025-02-21T14:00:00Z","hi":45.75,"lo":44.3,"kind":"level"},
{"from":"2025-02-12T14:00:00Z","to":"2025-02-21T14:00:00Z","hi":33.05,"lo":31.56,"kind":"level"},
{"from":"2025-01-30T02:00:00Z","to":"2025-02-12T07:00:00Z","hi":42.53,"lo":41.0,"kind":"sma"},
{"from":"2025-02-12T14:00:00Z","to":"2025-02-21T14:00:00Z","hi":42.53,"lo":41.0,"kind":"sma"},
{"from":"2025-02-04T12:00:00Z","to":"2025-02-12T07:00:00Z","hi":39.35,"lo":37.8,"kind":"ema"},
{"from":"2025-02-12T14:00:00Z","to":"2025-02-21T14:00:00Z","hi":39.35,"lo":37.8,"kind":"ema"},
{"from":"2025-01-27T02:00:00Z","to":"2025-02-12T07:00:00Z","hi":37.71,"lo":36.38,"kind":"last"},
{"from":"2025-02-12T14:00:00Z","to":"2025-02-21T14:00:00Z","hi":37.71,"lo":33.82,"kind":"last"}
],
"topText":[
{"date":"2024-03-29","price":63.53,"text":"agger published on TradingView.com, Jan 22, 2025 14:26 UTC","kind":"ink"},
{"date":"2024-03-29","price":61.17,"text":"X / TetherUS, 1D, BINANCE","kind":"ink"},
{"date":"2024-05-07","price":61.17,"text":"O","kind":"ink"},
{"date":"2024-05-09","price":61.17,"text":"36.96","kind":"last"},
{"date":"2024-05-19","price":61.17,"text":"H","kind":"ink"},
{"date":"2024-05-21","price":61.17,"text":"37.77","kind":"last"},
{"date":"2024-05-30","price":61.17,"text":"L","kind":"ink"},
{"date":"2024-06-01","price":61.17,"text":"36.50","kind":"last"},
{"date":"2024-06-10","price":61.17,"text":"C","kind":"ink"},
{"date":"2024-06-12","price":61.17,"text":"37.08","kind":"last"},
{"date":"2024-06-22","price":61.17,"text":"+0.13 (+0.35%)","kind":"last"},
{"date":"2024-03-30","price":59.53,"text":"(20, close)","kind":"ink"},
{"date":"2024-04-15","price":59.53,"text":"38.24","kind":"ema"},
{"date":"2024-03-30","price":58.0,"text":"(50, close)","kind":"ink"},
{"date":"2024-04-15","price":58.0,"text":"41.76","kind":"sma"},
{"date":"2025-02-15T22:00:00Z","price":60.87,"text":"USDT","kind":"ink"},
{"date":"2025-02-14T14:00:00Z","price":56.0,"text":"56.00","kind":"white"},
{"date":"2025-02-14T14:00:00Z","price":45.05,"text":"45.05","kind":"white"},
{"date":"2025-02-14T14:00:00Z","price":32.31,"text":"32.31","kind":"white"},
{"date":"2025-02-14T14:00:00Z","price":41.76,"text":"41.76","kind":"white"},
{"date":"2025-02-14T14:00:00Z","price":38.57,"text":"38.24","kind":"white"},
{"date":"2025-02-14T14:00:00Z","price":37.1,"text":"37.08","kind":"white"},
{"date":"2025-02-14T14:00:00Z","price":35.87,"text":"−35.06","kind":"white"},
{"date":"2025-02-14T14:00:00Z","price":34.53,"text":"09:33","kind":"white"}
],
"priceNames":[
{"date":"2025-01-31T07:00:00Z","price":41.76,"text":"SMA:MA","kind":"white"},
{"date":"2025-02-05T10:00:00Z","price":38.57,"text":"EMA","kind":"white"},
{"date":"2025-01-28","price":37.1,"text":"AVAXUSDT","kind":"white"}
],
"rsiBoxes":[
{"from":"2025-02-05T19:00:00Z","to":"2025-02-12T07:00:00Z","hi":48.75,"lo":43.25,"kind":"rsi"},
{"from":"2025-02-12T14:00:00Z","to":"2025-02-21T14:00:00Z","hi":48.75,"lo":43.25,"kind":"rsi"},
{"from":"2025-01-22T14:00:00Z","to":"2025-02-12T07:00:00Z","hi":42.86,"lo":37.37,"kind":"rsima"},
{"from":"2025-02-12T14:00:00Z","to":"2025-02-21T14:00:00Z","hi":42.86,"lo":37.37,"kind":"rsima"}
],
"rsiText":[
{"date":"2024-03-29","value":78.2,"text":"(14, close)","kind":"ink"},
{"date":"2024-04-14","value":78.2,"text":"45.82","kind":"rsi"},
{"date":"2024-04-24","value":78.2,"text":"45.45","kind":"rsima"},
{"date":"2024-05-04","value":78.2,"text":"∅","kind":"ink"},
{"date":"2024-05-08","value":78.2,"text":"∅","kind":"ink"},
{"date":"2024-05-12","value":78.2,"text":"∅","kind":"ink"},
{"date":"2024-05-16","value":78.2,"text":"∅","kind":"ink"},
{"date":"2025-02-14T14:00:00Z","value":46.0,"text":"45.82","kind":"white"},
{"date":"2025-02-14T14:00:00Z","value":40.1,"text":"45.45","kind":"dark"},
{"date":"2024-03-29","value":7.1,"text":"radingView","kind":"ink"}
],
"rsiNames":[
{"date":"2025-02-06T22:00:00Z","value":46.0,"text":"RSI","kind":"white"},
{"date":"2025-01-23T19:00:00Z","value":40.1,"text":"RSI-based MA","kind":"dark"}
]
},
"vconcat":[
{
"width":1069,
"height":490,
"layer":[
{"data":{"values":[{"hi":64.86,"lo":62.5}]},"mark":{"type":"rect","color":"white"},
"encoding":{"y":{"field":"hi","type":"quantitative","title":null,
"scale":{"domain":[14.66,64.86],"nice":false,"zero":false},
"axis":{"orient":"right","values":[16,20,24,28,32,36,40,44,48,52,56,60],"labelExpr":"indexof([32,36,56,60], datum.value) >= 0 ? '' : format(datum.value, '.2f')","grid":true,"gridColor":"#f0f3fa","domainColor":"#e0e3eb","ticks":false,"labelColor":"#3a3e4a","labelFontSize":11,"labelPadding":8,"title":null}},"y2":{"field":"lo"}}},
{"data":{"values":[{"price":62.5}]},"mark":{"type":"rule","color":"#e0e3eb"},"encoding":{"y":{"field":"price","type":"quantitative"}}},
{"data":{"values":[{"price":37.08}]},"mark":{"type":"rule","color":"#22ab94","strokeDash":[1,3]},"encoding":{"y":{"field":"price","type":"quantitative"}}},
{"data":{"name":"daily"},"mark":{"type":"rule","strokeWidth":1,"opacity":0.85},
"encoding":{"x":{"field":"date","type":"temporal","title":null,
"scale":{"type":"utc","padding":0,"domain":["2024-03-28T22:00:00Z","2025-02-12T07:00:00Z"]},
"axis":{"tickCount":"month","grid":true,"gridColor":"#f0f3fa","labels":false,"ticks":false,"domain":true,"domainColor":"#e0e3eb","title":null}},
"y":{"field":"low","type":"quantitative"},"y2":{"field":"high"},
"color":{"condition":{"test":"datum.close >= datum.open","value":"#26a69a"},"value":"#ef5350"}}},
{"data":{"name":"daily"},"mark":{"type":"bar","width":2.4},
"encoding":{"x":{"field":"date","type":"temporal"},"y":{"field":"open","type":"quantitative"},"y2":{"field":"close"},
"color":{"condition":{"test":"datum.close >= datum.open","value":"#26a69a"},"value":"#ef5350"}}},
{"data":{"name":"sma"},"mark":{"type":"line","color":"#f23645","strokeWidth":3,"interpolate":"monotone"},
"encoding":{"x":{"field":"date","type":"temporal"},"y":{"field":"v","type":"quantitative"}}},
{"data":{"name":"ema"},"mark":{"type":"line","color":"#2962ff","strokeWidth":3,"interpolate":"monotone"},
"encoding":{"x":{"field":"date","type":"temporal"},"y":{"field":"v","type":"quantitative"}}},
{"data":{"name":"levels"},"mark":{"type":"rule","color":"#0000ff","strokeWidth":3,"strokeDash":[13.5,15.5]},
"encoding":{"x":{"field":"from","type":"temporal"},"x2":{"field":"to"},"y":{"field":"price","type":"quantitative"}}},
{"data":{"values":[{"from":"2025-02-13T10:00:00Z","to":"2025-02-21T14:00:00Z","hi":62.1,"lo":59.74}]},
"mark":{"type":"rect","fill":"white","stroke":"#e0e3eb","cornerRadius":4},
"encoding":{"x":{"field":"from","type":"temporal"},"x2":{"field":"to"},"y":{"field":"hi","type":"quantitative"},"y2":{"field":"lo"}}},
{"data":{"name":"priceBoxes"},"mark":{"type":"rect"},
"encoding":{"x":{"field":"from","type":"temporal"},"x2":{"field":"to"},"y":{"field":"hi","type":"quantitative"},"y2":{"field":"lo"},
"color":{"field":"kind","type":"nominal","legend":null,
"scale":{"domain":["ink","white","dark","level","sma","ema","last","rsi","rsima"],"range":["#3a3e4a","#ffffff","#131722","#0000ff","#f23645","#2962ff","#22ab94","#7e57c2","#ffe93b"]}}}},
{"data":{"name":"topText"},"mark":{"type":"text","align":"left","baseline":"middle","fontSize":11},
"encoding":{"x":{"field":"date","type":"temporal"},"y":{"field":"price","type":"quantitative"},"text":{"field":"text"},
"color":{"field":"kind","type":"nominal","legend":null,
"scale":{"domain":["ink","white","dark","level","sma","ema","last","rsi","rsima"],"range":["#3a3e4a","#ffffff","#131722","#0000ff","#f23645","#2962ff","#22ab94","#7e57c2","#ffe93b"]}}}},
{"data":{"name":"priceNames"},"mark":{"type":"text","align":"left","baseline":"middle","fontSize":10},
"encoding":{"x":{"field":"date","type":"temporal"},"y":{"field":"price","type":"quantitative"},"text":{"field":"text"},
"color":{"field":"kind","type":"nominal","legend":null,
"scale":{"domain":["ink","white","dark","level","sma","ema","last","rsi","rsima"],"range":["#3a3e4a","#ffffff","#131722","#0000ff","#f23645","#2962ff","#22ab94","#7e57c2","#ffe93b"]}}}},
{"data":{"values":[{"date":"2025-01-21T17:00:00Z","price":15.99}]},"mark":{"type":"point","shape":"circle","size":227,"filled":false,"color":"#a83bc4","strokeWidth":1.6},
"encoding":{"x":{"field":"date","type":"temporal"},"y":{"field":"price","type":"quantitative"}}},
{"data":{"values":[{"date":"2025-01-21T17:00:00Z","price":15.95,"text":"ϟ"}]},"mark":{"type":"text","color":"#a83bc4","fontSize":14,"fontWeight":"bold","font":"DejaVu Sans","baseline":"middle"},
"encoding":{"x":{"field":"date","type":"temporal"},"y":{"field":"price","type":"quantitative"},"text":{"field":"text"}}},
{"data":{"values":[{"date":"2025-01-23T12:00:00Z","price":16.5}]},"mark":{"type":"point","shape":"circle","size":24,"filled":true,"color":"#f23645","opacity":1},
"encoding":{"x":{"field":"date","type":"temporal"},"y":{"field":"price","type":"quantitative"}}}
]
},
{
"width":1069,
"height":155,
"layer":[
{"data":{"values":[{"hi":70,"lo":30}]},"mark":{"type":"rect","color":"#7e57c2","opacity":0.1},
"encoding":{"y":{"field":"hi","type":"quantitative","title":null,
"scale":{"domain":[22.43,83.25],"nice":false,"zero":false},
"axis":{"orient":"right","values":[40,60,80],"labelExpr":"datum.value == 40 ? '' : format(datum.value, '.2f')","grid":true,"gridColor":"#f0f3fa","domainColor":"#e0e3eb","ticks":false,"labelColor":"#3a3e4a","labelFontSize":11,"labelPadding":8,"title":null}},"y2":{"field":"lo"}}},
{"data":{"values":[{"v":70},{"v":50},{"v":30}]},"mark":{"type":"rule","color":"#787b86","strokeDash":[4,3]},
"encoding":{"y":{"field":"v","type":"quantitative"},"opacity":{"condition":{"test":"datum.v == 50","value":0.5},"value":1}}},
{"data":{"values":[{"v":13.0}]},"mark":{"type":"rule","color":"#e0e3eb"},"encoding":{"y":{"field":"v","type":"quantitative"}}},
{"data":{"values":[{"date":"2025-02-12T07:00:00Z","hi":22.43,"lo":13.0}]},"mark":{"type":"rule","color":"#e0e3eb"},
"encoding":{"x":{"field":"date","type":"temporal"},"y":{"field":"hi","type":"quantitative"},"y2":{"field":"lo"}}},
{"data":{"name":"rsima"},"mark":{"type":"line","color":"#ffe75c","strokeWidth":1.2,"interpolate":"monotone"},
"encoding":{"x":{"field":"date","type":"temporal","title":null,
"scale":{"type":"utc","domain":["2024-03-28T22:00:00Z","2025-02-12T07:00:00Z"]},
"axis":{"tickCount":"month","grid":true,"gridColor":"#f0f3fa","ticks":false,"domain":true,"domainColor":"#e0e3eb","labelColor":"#3a3e4a","labelFontSize":12,"labelPadding":6,"labelFlush":false,"labelOverlap":false,"title":null,
"labelExpr":"utcmonth(datum.value) == 0 ? utcFormat(datum.value, '%Y') : utcFormat(datum.value, '%b')",
"labelFontWeight":{"condition":{"test":"utcmonth(datum.value) == 0","value":"bold"},"value":"normal"}}},
"y":{"field":"v","type":"quantitative"}}},
{"data":{"name":"daily"},"mark":{"type":"line","color":"#7e57c2","strokeWidth":2.7},
"encoding":{"x":{"field":"date","type":"temporal"},"y":{"field":"rsi","type":"quantitative"}}},
{"data":{"name":"rsiBoxes"},"mark":{"type":"rect"},
"encoding":{"x":{"field":"from","type":"temporal"},"x2":{"field":"to"},"y":{"field":"hi","type":"quantitative"},"y2":{"field":"lo"},
"color":{"field":"kind","type":"nominal","legend":null,
"scale":{"domain":["ink","white","dark","level","sma","ema","last","rsi","rsima"],"range":["#3a3e4a","#ffffff","#131722","#0000ff","#f23645","#2962ff","#22ab94","#7e57c2","#ffe93b"]}}}},
{"data":{"name":"rsiText"},"mark":{"type":"text","align":"left","baseline":"middle","fontSize":11},
"encoding":{"x":{"field":"date","type":"temporal"},"y":{"field":"value","type":"quantitative"},"text":{"field":"text"},
"color":{"field":"kind","type":"nominal","legend":null,
"scale":{"domain":["ink","white","dark","level","sma","ema","last","rsi","rsima"],"range":["#3a3e4a","#ffffff","#131722","#0000ff","#f23645","#2962ff","#22ab94","#7e57c2","#ffe93b"]}}}},
{"data":{"name":"rsiNames"},"mark":{"type":"text","align":"left","baseline":"middle","fontSize":10},
"encoding":{"x":{"field":"date","type":"temporal"},"y":{"field":"value","type":"quantitative"},"text":{"field":"text"},
"color":{"field":"kind","type":"nominal","legend":null,
"scale":{"domain":["ink","white","dark","level","sma","ema","last","rsi","rsima"],"range":["#3a3e4a","#ffffff","#131722","#0000ff","#f23645","#2962ff","#22ab94","#7e57c2","#ffe93b"]}}}}
]
}
]
}
